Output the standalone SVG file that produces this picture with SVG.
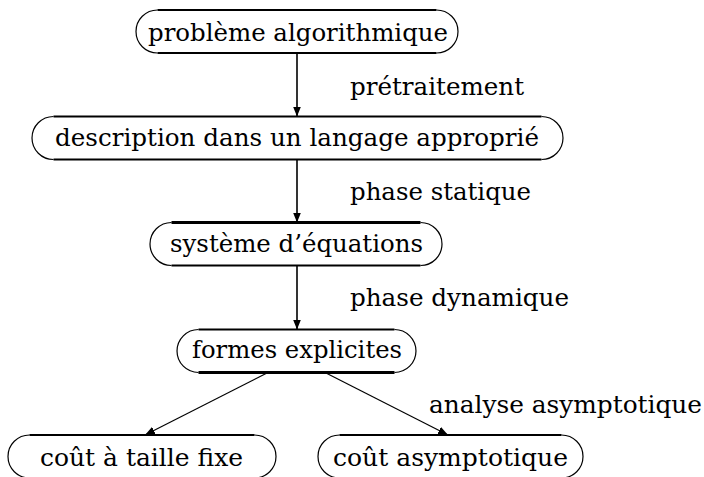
<svg xmlns="http://www.w3.org/2000/svg" width="704" height="477" viewBox="0 0 704 477">
<defs>
<marker id="ah" viewBox="0 0 10 8" refX="10" refY="4" markerWidth="10" markerHeight="8" markerUnits="userSpaceOnUse" orient="auto">
<path d="M0,0 L10,4 L0,8 Z" fill="#000"/>
</marker>
<style>
text{font-family:'DejaVu Serif','Liberation Serif',serif;font-size:25px;fill:#000}
.arc{fill:none;stroke:#000;stroke-width:1.2}
.ln{fill:none;stroke:#000;stroke-width:2}
.thk{fill:none;stroke:#000;stroke-width:3}
.c{fill:none;stroke:#000;stroke-width:1.6;marker-end:url(#ah)}
.d{fill:none;stroke:#000;stroke-width:1.2;marker-end:url(#ah)}
</style>
</defs>
<rect width="704" height="477" fill="#fff"/>
<g id="connectors">
<line class="c" x1="297" y1="53" x2="297" y2="116.5"/>
<line class="c" x1="297" y1="159.5" x2="297" y2="222.5"/>
<line class="c" x1="297" y1="265" x2="297" y2="329.5"/>
<line class="d" x1="268" y1="372.5" x2="145" y2="435"/>
<line class="d" x1="325" y1="372.5" x2="448" y2="435"/>
</g>
<g id="labels">
<text x="350" y="95" textLength="174" lengthAdjust="spacingAndGlyphs">prétraitement</text>
<text x="350" y="200" textLength="181" lengthAdjust="spacingAndGlyphs">phase statique</text>
<text x="350" y="306" textLength="219" lengthAdjust="spacingAndGlyphs">phase dynamique</text>
<text x="429" y="413" textLength="273" lengthAdjust="spacingAndGlyphs">analyse asymptotique</text>
</g>
<g id="n1">
<path class="ln" d="M157.5,10 H436.5 M157.5,53 H436.5"/>
<path class="arc" d="M157.5,10 A21.5,21.5 0 0 0 157.5,53 M436.5,10 A21.5,21.5 0 0 1 436.5,53"/>
<text x="148" y="41" textLength="300" lengthAdjust="spacingAndGlyphs">problème algorithmique</text>
</g>
<g id="n2">
<path class="ln" d="M53.5,116.5 H541.5 M53.5,159.5 H541.5"/>
<path class="arc" d="M53.5,116.5 A21.5,21.5 0 0 0 53.5,159.5 M541.5,116.5 A21.5,21.5 0 0 1 541.5,159.5"/>
<text x="55" y="146" textLength="484" lengthAdjust="spacingAndGlyphs">description dans un langage approprié</text>
</g>
<g id="n3">
<path class="thk" d="M171.5,222.5 H420.5"/>
<path class="ln" d="M171.5,265.5 H420.5"/>
<path class="arc" d="M171.5,222.5 A21.5,21.5 0 0 0 171.5,265.5 M420.5,222.5 A21.5,21.5 0 0 1 420.5,265.5"/>
<text x="170" y="252" textLength="253" lengthAdjust="spacingAndGlyphs">système d’équations</text>
</g>
<g id="n4">
<path class="ln" d="M198.5,329.5 H394.5"/>
<path class="thk" d="M198.5,372.5 H394.5"/>
<path class="arc" d="M198.5,329.5 A21.5,21.5 0 0 0 198.5,372.5 M394.5,329.5 A21.5,21.5 0 0 1 394.5,372.5"/>
<text x="192" y="358" textLength="210" lengthAdjust="spacingAndGlyphs">formes explicites</text>
</g>
<g id="n5">
<path class="ln" d="M29.5,435 H254.5 M29.5,478 H254.5"/>
<path class="arc" d="M29.5,435 A21.5,21.5 0 0 0 29.5,478 M254.5,435 A21.5,21.5 0 0 1 254.5,478"/>
<text x="40" y="466" textLength="203" lengthAdjust="spacingAndGlyphs">coût à taille fixe</text>
</g>
<g id="n6">
<path class="ln" d="M339.5,435 H561.5 M339.5,478 H561.5"/>
<path class="arc" d="M339.5,435 A21.5,21.5 0 0 0 339.5,478 M561.5,435 A21.5,21.5 0 0 1 561.5,478"/>
<text x="333" y="466" textLength="235" lengthAdjust="spacingAndGlyphs">coût asymptotique</text>
</g>
</svg>
